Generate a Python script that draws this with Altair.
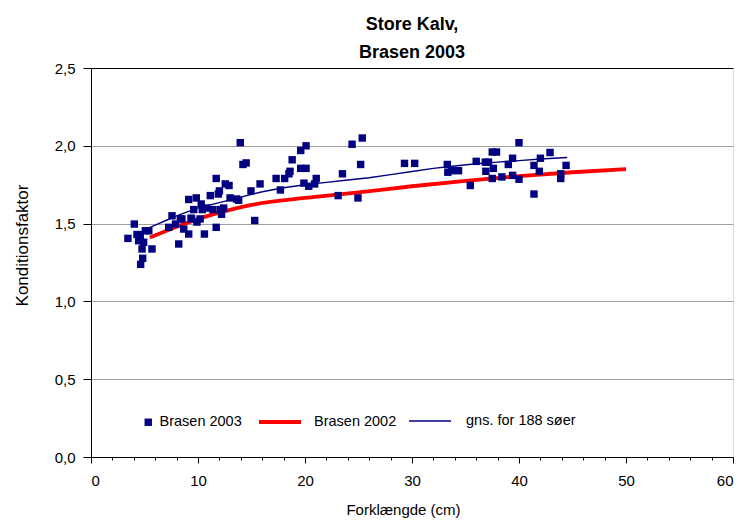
import altair as alt
import pandas as pd

# ---- data ----
scatter_x = [3.45, 4.05, 4.3, 4.6, 4.45, 4.92, 5.08, 5.4, 5.7, 4.77, 4.83, 4.64,
             7.57, 7.26, 7.9, 8.2, 8.5, 8.67, 8.35, 9.13, 9.13, 9.35, 9.6, 9.4, 9.84, 9.9,
             10.2, 10.3, 10.4, 10.6, 10.8, 11.15, 11.4, 11.7, 11.7, 11.9, 12.0, 12.1, 12.2,
             12.4, 12.55, 12.9, 13.0, 13.6, 13.8, 13.95, 14.2, 14.5, 14.95, 15.3, 15.8,
             17.3, 17.7, 18.1, 18.5, 18.6, 18.8, 19.6, 19.6, 19.9, 20.1, 20.1, 20.35, 20.9,
             21.05, 23.1, 23.5, 24.4, 24.95, 25.2, 25.35,
             29.3, 30.25, 33.3, 33.35, 33.7, 34.35, 35.45, 36.0, 36.85, 36.9, 37.5, 37.9,
             37.15, 37.6, 37.5, 38.4, 39.0, 39.4, 39.4, 40.0, 40.0, 41.4, 42.0, 41.9, 41.4,
             42.9, 43.9, 43.9, 44.4]
scatter_y = [1.405, 1.497, 1.43, 1.42, 1.39, 1.38, 1.454, 1.454, 1.337, 1.337, 1.277, 1.238,
             1.55, 1.476, 1.497, 1.369, 1.53, 1.465, 1.53, 1.433, 1.655, 1.535, 1.59, 1.53, 1.665, 1.51,
             1.53, 1.626, 1.59, 1.433, 1.6, 1.68, 1.59, 1.79, 1.476, 1.69, 1.71, 1.59, 1.56,
             1.6, 1.755, 1.745, 1.665, 1.658, 1.65, 2.02, 1.88, 1.89, 1.71, 1.52, 1.755,
             1.79, 1.716, 1.79, 1.82, 1.836, 1.91, 1.97, 1.855, 1.76, 2.0, 1.855, 1.74, 1.755,
             1.79, 1.68, 1.82, 2.01, 1.665, 1.88, 2.05,
             1.887, 1.887, 1.88, 1.83, 1.84, 1.84, 1.745, 1.90, 1.895, 1.836, 1.96, 1.96,
             1.895, 1.855, 1.79, 1.80, 1.88, 1.92, 1.81, 1.785, 2.02, 1.874, 1.92, 1.836, 1.69,
             1.957, 1.82, 1.79, 1.874]

red_x = [5.5, 8, 10, 12, 15, 20, 25, 30, 35, 40, 45, 50]
red_y = [1.41, 1.48, 1.53, 1.57, 1.62, 1.665, 1.70, 1.74, 1.775, 1.805, 1.83, 1.85]

blue_x = [4, 5, 6, 7, 8, 9, 10, 12, 14, 16, 18, 20, 22, 24, 26, 28, 30, 32, 34, 36, 38, 40, 42, 44.5]
blue_y = [1.42, 1.46, 1.49, 1.52, 1.55, 1.575, 1.60, 1.635, 1.67, 1.705, 1.73, 1.75, 1.765,
          1.78, 1.795, 1.815, 1.835, 1.855, 1.87, 1.885, 1.895, 1.905, 1.915, 1.925]

series_names = ["Brasen 2003", "Brasen 2002", "gns. for 188 søer"]
x_ticks = [0, 10, 20, 30, 40, 50, 60]
x_minor_ticks = [v for v in range(0, 61, 2) if v % 10 != 0]
y_ticks = [0.0, 0.5, 1.0, 1.5, 2.0, 2.5]

FONT = "Liberation Sans"
NAVY = "#000080"
RED = "#ff0000"

pts = pd.DataFrame({"x": scatter_x, "y": scatter_y, "s": series_names[0]})
red = pd.DataFrame({"x": red_x, "y": red_y, "s": series_names[1]})
blue = pd.DataFrame({"x": blue_x, "y": blue_y, "s": series_names[2]})
minor = pd.DataFrame({"x": x_minor_ticks})

xscale = alt.Scale(domain=[0, 60], nice=False)
yscale = alt.Scale(domain=[0, 2.5], nice=False)

x_axis = alt.Axis(values=x_ticks, title="Forklængde (cm)", grid=False, orient="bottom",
                  labelFontSize=15, labelFont=FONT, labelColor="black",
                  titleFontSize=15, titleFont=FONT, titleFontWeight="normal", titleColor="black",
                  titleX=312,
                  tickColor="black", tickSize=6,
                  domainColor="black", labelPadding=10, titlePadding=14)
x_minor_axis = alt.Axis(values=x_minor_ticks, labels=False, domain=False, grid=False,
                        tickColor="black", tickSize=3, title=None, orient="bottom")
y_axis = alt.Axis(values=y_ticks, title="Konditionsfaktor",
                  labelExpr="replace(format(datum.value, '.1f'), '.', ',')",
                  labelFontSize=15, labelFont=FONT, labelColor="black",
                  titleFontSize=17, titleFont=FONT, titleFontWeight="normal", titleColor="black",
                  titleY=177,
                  tickColor="black", tickSize=8, domainColor="black", labelPadding=8,
                  titlePadding=23, grid=True,
                  gridColor={"condition": {"test": "datum.value >= 2.5", "value": "black"},
                             "value": "#a0a0a0"})


def leg(x, y, sym, size, sw, offset):
    return alt.Legend(orient="none", legendX=x, legendY=y, title=None,
                      symbolType=sym, symbolSize=size, symbolStrokeWidth=sw,
                      labelFontSize=14.5, labelFont=FONT, labelColor="black",
                      labelOffset=offset, padding=0)


scatter = alt.Chart(pts).mark_point(filled=True, shape="square", size=55, opacity=1).encode(
    x=alt.X("x:Q", scale=xscale, axis=x_axis),
    y=alt.Y("y:Q", scale=yscale, axis=y_axis),
    color=alt.Color("s:N", scale=alt.Scale(domain=[series_names[0]], range=[NAVY]),
                    legend=leg(50, 347, "square", 55, 0, 4)),
)

red_line = alt.Chart(red).mark_line(strokeWidth=3.8, interpolate="monotone").encode(
    x=alt.X("x:Q", scale=xscale, axis=None),
    y=alt.Y("y:Q", scale=yscale),
    color=alt.Color("s:N", scale=alt.Scale(domain=[series_names[1]], range=[RED]),
                    legend=leg(166, 331, "stroke", 1764, 4, 11)),
)

blue_line = alt.Chart(blue).mark_line(strokeWidth=1.4).encode(
    x=alt.X("x:Q", scale=xscale, axis=None),
    y=alt.Y("y:Q", scale=yscale),
    color=alt.Color("s:N", scale=alt.Scale(domain=[series_names[2]], range=[NAVY]),
                    legend=leg(317, 331, "stroke", 1764, 1.5, 14)),
)

minor_ticks = alt.Chart(minor).mark_point(opacity=0).encode(
    x=alt.X("x:Q", scale=xscale, axis=x_minor_axis),
)

chart = (
    alt.layer(blue_line, red_line, scatter, minor_ticks)
    .resolve_scale(color="independent")
    .resolve_legend(color="independent")
    .resolve_axis(x="independent")
    .properties(
        width=642, height=389,
        padding={"top": 8, "left": 5, "right": 5, "bottom": 6},
        title=alt.TitleParams(["Store Kalv,", "Brasen 2003"], fontSize=18, font=FONT,
                              fontWeight="bold", anchor="middle", lineHeight=28,
                              color="black", offset=-1),
    )
    .configure_view(stroke="black", strokeWidth=1)
    .configure(background="white")
)

chart.save("out.html", embed_options={"renderer": "svg", "actions": False})
